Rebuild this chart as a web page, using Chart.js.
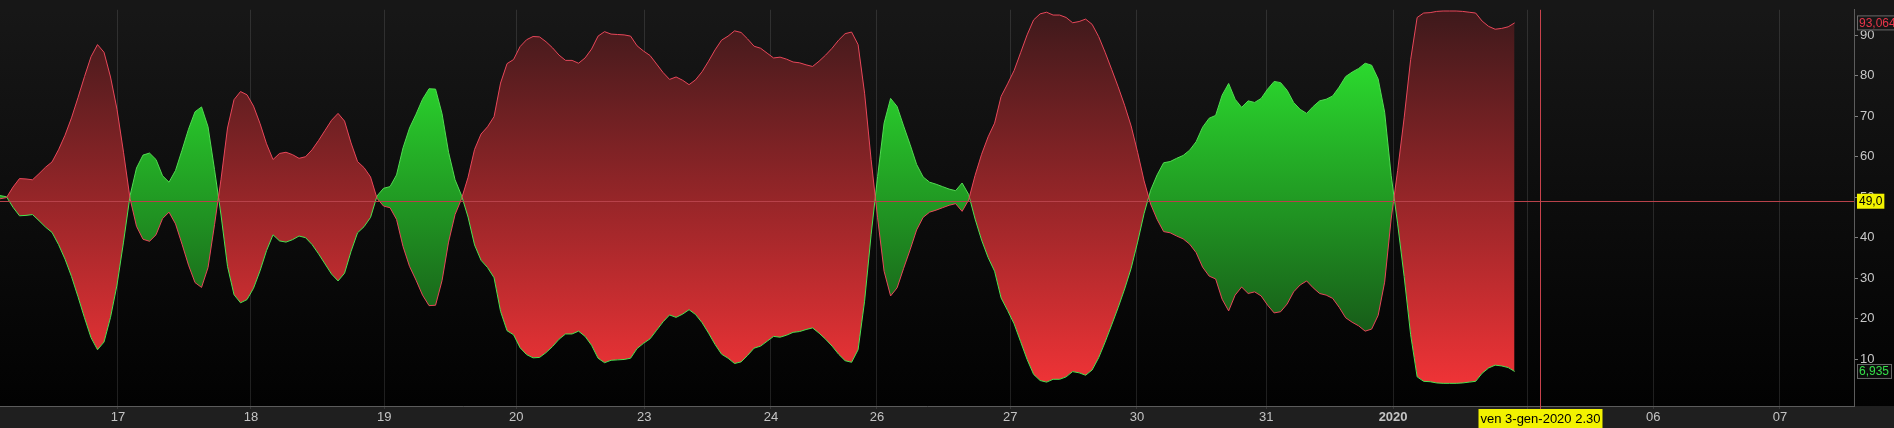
<!DOCTYPE html>
<html>
<head>
<meta charset="utf-8">
<script src="https://cdn.jsdelivr.net/npm/chart.js@4/dist/chart.umd.min.js"></script>
<style>
  html, body { margin: 0; padding: 0; background: #000; }
  canvas { display: block; }
</style>
</head>
<body>
<canvas id="chart" width="1894" height="428"></canvas>
<script>
// oscillator lines, one value per bar (red = upper line, green = its mirror)
const upperLine = [
  49.6, 49.9, 52.5, 54.6, 54.5, 54.3, 55.8, 57.4, 58.7, 61.7,
  65.3, 69.6, 74.6, 79.8, 84.7, 87.7, 85.8, 79.7, 71.7, 61.1,
  49.7, 42.8, 39.6, 39.1, 40.7, 44.7, 46.3, 43.4, 38.4, 33.2,
  28.9, 27.7, 32.6, 43.2, 54.4, 67.1, 74.1, 76.1, 75.3, 72.5,
  68.2, 63.2, 59.3, 60.8, 61.1, 60.5, 59.6, 60.0, 61.7, 64.0,
  66.5, 69.0, 70.7, 68.8, 63.4, 58.8, 57.3, 55.0, 49.7, 47.8,
  47.4, 44.5, 37.8, 32.9, 29.5, 25.8, 23.2, 23.3, 29.4, 38.9,
  45.7, 49.6, 54.9, 61.8, 65.6, 67.4, 69.9, 78.2, 83.0, 84.0,
  87.2, 88.9, 89.7, 89.6, 88.4, 86.9, 85.1, 83.8, 83.8, 83.1,
  84.4, 86.6, 89.8, 90.9, 90.3, 90.2, 90.1, 89.8, 87.4, 86.1,
  85.0, 82.9, 80.8, 79.1, 79.7, 78.9, 77.8, 79.0, 81.0, 83.6,
  86.4, 88.8, 89.8, 91.1, 90.7, 89.1, 87.3, 86.8, 85.6, 84.4,
  84.6, 84.1, 83.4, 83.2, 82.7, 82.3, 83.6, 85.1, 86.8, 88.8,
  90.4, 90.8, 87.7, 75.7, 59.3, 44.9, 31.7, 25.6, 27.6, 32.4,
  37.0, 41.9, 45.0, 46.3, 46.8, 47.4, 48.0, 48.4, 46.5, 49.3,
  55.4, 60.6, 64.9, 68.3, 74.9, 78.0, 81.3, 85.7, 90.1, 93.8,
  95.3, 95.7, 95.0, 95.0, 94.4, 93.1, 93.4, 94.0, 92.7, 89.7,
  85.8, 81.6, 77.3, 72.7, 67.6, 61.1, 54.0, 48.3, 44.5, 41.5,
  41.2, 40.4, 39.7, 38.4, 36.3, 32.7, 30.5, 29.8, 24.8, 21.9,
  25.8, 27.8, 26.2, 26.6, 25.6, 23.3, 21.4, 21.7, 23.6, 26.6,
  28.3, 29.3, 27.6, 26.2, 25.8, 25.0, 22.8, 20.2, 19.1, 18.2,
  16.9, 17.4, 20.8, 29.0, 44.6, 56.6, 69.6, 84.0, 94.4, 95.5,
  95.6, 95.9, 96.0, 96.0, 96.0, 95.9, 95.7, 95.5, 93.5, 92.2,
  91.5, 91.7, 92.1, 93.064,
];

const lowerLine = [
  50.4, 50.1, 47.5, 45.4, 45.5, 45.7, 44.2, 42.6, 41.3, 38.3,
  34.7, 30.4, 25.4, 20.2, 15.3, 12.3, 14.2, 20.3, 28.3, 38.9,
  50.3, 57.2, 60.4, 60.9, 59.3, 55.3, 53.7, 56.6, 61.6, 66.8,
  71.1, 72.3, 67.4, 56.8, 45.6, 32.9, 25.9, 23.9, 24.7, 27.5,
  31.8, 36.8, 40.7, 39.2, 38.9, 39.5, 40.4, 40.0, 38.3, 36.0,
  33.5, 31.0, 29.3, 31.2, 36.6, 41.2, 42.7, 45.0, 50.3, 52.2,
  52.6, 55.5, 62.2, 67.1, 70.5, 74.2, 76.8, 76.7, 70.6, 61.1,
  54.3, 50.4, 45.1, 38.2, 34.4, 32.6, 30.1, 21.8, 17.0, 16.0,
  12.8, 11.1, 10.3, 10.4, 11.6, 13.1, 14.9, 16.2, 16.2, 16.9,
  15.6, 13.4, 10.2, 9.1, 9.7, 9.8, 9.9, 10.2, 12.6, 13.9,
  15.0, 17.1, 19.2, 20.9, 20.3, 21.1, 22.2, 21.0, 19.0, 16.4,
  13.6, 11.2, 10.2, 8.9, 9.3, 10.9, 12.7, 13.2, 14.4, 15.6,
  15.4, 15.9, 16.6, 16.8, 17.3, 17.7, 16.4, 14.9, 13.2, 11.2,
  9.6, 9.2, 12.3, 24.3, 40.7, 55.1, 68.3, 74.4, 72.4, 67.6,
  63.0, 58.1, 55.0, 53.7, 53.2, 52.6, 52.0, 51.6, 53.5, 50.7,
  44.6, 39.4, 35.1, 31.7, 25.1, 22.0, 18.7, 14.3, 9.9, 6.2,
  4.7, 4.3, 5.0, 5.0, 5.6, 6.9, 6.6, 6.0, 7.3, 10.3,
  14.2, 18.4, 22.7, 27.3, 32.4, 38.9, 46.0, 51.7, 55.5, 58.5,
  58.8, 59.6, 60.3, 61.6, 63.7, 67.3, 69.5, 70.2, 75.2, 78.1,
  74.2, 72.2, 73.8, 73.4, 74.4, 76.7, 78.6, 78.3, 76.4, 73.4,
  71.7, 70.7, 72.4, 73.8, 74.2, 75.0, 77.2, 79.8, 80.9, 81.8,
  83.1, 82.6, 79.2, 71.0, 55.4, 43.4, 30.4, 16.0, 5.6, 4.5,
  4.4, 4.1, 4.0, 4.0, 4.0, 4.1, 4.3, 4.5, 6.5, 7.8,
  8.5, 8.3, 7.9, 6.935,
];

// session starts, in bars
const dayLabels = ['17', '18', '19', '20', '23', '24', '26', '27', '30', '31', '2020', '03', '06', '07'];
const dayStartBars = [18.15, 38.6, 59.1, 79.4, 99.1, 118.6, 134.9, 155.4, 174.9, 194.8, 214.3, 234.9, 254.3, 273.8];
const lastBar = 285.2;

const yTickValues = [10, 20, 30, 40, 50, 60, 70, 80, 90];
const yMin = -1.6;
const yMax = 96.3;

const refLevel = 49.0;
const refLabel = '49,0';
const upperLastLabel = '93,064';
const lowerLastLabel = '6,935';
const cursorBar = 236.9;
const cursorLabel = 'ven 3-gen-2020 2.30';

const FONT = '"Liberation Sans", Arial, sans-serif';
const RED_LINE = '#e8475a';
const GREEN_LINE = '#4fe052';

// ---plugins

const background = {
  id: 'background',
  beforeDraw (chart) {
    const { ctx, chartArea: a, width, height } = chart;
    ctx.save();
    ctx.fillStyle = '#1f1f1f';
    ctx.fillRect(0, 0, width, height);
    const bg = ctx.createLinearGradient(0, a.top, 0, a.bottom);
    bg.addColorStop(0, '#171717');
    bg.addColorStop(1, '#020202');
    ctx.fillStyle = bg;
    ctx.fillRect(0, 0, width, a.bottom);
    ctx.restore();
  },
};

const gradientFill = {
  id: 'gradientFill',
  afterLayout (chart) {
    const { ctx, chartArea: a } = chart;
    const red = ctx.createLinearGradient(0, a.top, 0, a.bottom);
    red.addColorStop(0, '#3d191b');
    red.addColorStop(0.5, '#9a2629');
    red.addColorStop(1, '#fa3538');
    const green = ctx.createLinearGradient(0, a.top, 0, a.bottom);
    green.addColorStop(0, '#2ff232');
    green.addColorStop(1, '#123a13');
    chart.data.datasets[0].fill = { target: 1, above: red, below: green };
  },
};

function tag (ctx, text, x, yMid, opts) {
  ctx.font = `12px ${FONT}`;
  const w = ctx.measureText(text).width + 4;
  ctx.fillStyle = opts.bg;
  ctx.fillRect(x, yMid - 7.5, w, 15);
  if (opts.border) {
    ctx.strokeStyle = opts.border;
    ctx.lineWidth = 1;
    ctx.strokeRect(x + 0.5, yMid - 7, w, 14);
  }
  ctx.fillStyle = opts.color;
  ctx.textBaseline = 'middle';
  ctx.textAlign = 'left';
  ctx.fillText(text, x + 2, yMid + 0.5);
}

const overlays = {
  id: 'overlays',
  afterDatasetsDraw (chart) {
    const { ctx, chartArea: a, scales } = chart;
    const yRef = Math.round(scales.y.getPixelForValue(refLevel)) + 0.5;
    ctx.save();
    ctx.strokeStyle = '#b8424a';
    ctx.lineWidth = 1;
    ctx.beginPath();
    ctx.moveTo(a.left, yRef);
    ctx.lineTo(a.right, yRef);
    ctx.stroke();
    ctx.restore();
  },
  afterDraw (chart) {
    const { ctx, chartArea: a, scales } = chart;
    ctx.save();
    const xc = Math.round(scales.x.getPixelForValue(cursorBar)) + 0.5;
    ctx.strokeStyle = '#c8424c';
    ctx.lineWidth = 1;
    ctx.beginPath();
    ctx.moveTo(xc, a.top);
    ctx.lineTo(xc, a.bottom + 3);
    ctx.stroke();

    // cursor date tag
    ctx.font = `13px ${FONT}`;
    const cw = ctx.measureText(cursorLabel).width + 4;
    ctx.fillStyle = '#f2f200';
    ctx.fillRect(xc - cw / 2, a.bottom + 3, cw, 19);
    ctx.fillStyle = '#000';
    ctx.textAlign = 'center';
    ctx.textBaseline = 'middle';
    ctx.fillText(cursorLabel, xc, a.bottom + 13);

    const xTag = a.right + 3;
    tag(ctx, refLabel, xTag, scales.y.getPixelForValue(refLevel), { bg: '#f2f200', color: '#000' });
    tag(ctx, upperLastLabel, xTag, scales.y.getPixelForValue(upperLine[upperLine.length - 1]), { bg: '#161616', border: '#6a6a6a', color: '#e8354a' });
    tag(ctx, lowerLastLabel, xTag, scales.y.getPixelForValue(lowerLine[lowerLine.length - 1]), { bg: '#0c0c0c', border: '#6a6a6a', color: '#35e04a' });
    ctx.restore();
  },
};

// ---chart

const chart = new Chart(
  document.getElementById('chart'),
  {
    type: 'line',
    data: {
      datasets: [
        {
          label: 'upper',
          data: upperLine.map((y, x) => ({ x, y })),
          borderColor: RED_LINE,
          borderWidth: 1,
          pointRadius: 0,
          tension: 0,
          fill: { target: 1 },
        },
        {
          label: 'lower',
          data: lowerLine.map((y, x) => ({ x, y })),
          borderColor: GREEN_LINE,
          borderWidth: 1,
          pointRadius: 0,
          tension: 0,
          fill: false,
        },
      ],
    },
    options: {
      animation: false,
      responsive: false,
      maintainAspectRatio: false,
      layout: { padding: 0 },
      plugins: {
        legend: { display: false },
        tooltip: { enabled: false },
        filler: { drawTime: 'beforeDatasetsDraw' },
      },
      scales: {
        x: {
          type: 'linear',
          min: 0,
          max: lastBar,
          z: 1,
          afterBuildTicks: (scale) => {
            scale.ticks = dayStartBars.map((value) => ({ value }));
          },
          afterFit: (scale) => {
            scale.height = 22;
          },
          ticks: {
            autoSkip: false,
            maxRotation: 0,
            padding: 1,
            color: '#c4c4c4',
            font: (ctx) => ({
              family: FONT,
              size: 13,
              weight: dayLabels[ctx.index] === '2020' ? 'bold' : 'normal',
            }),
            callback: (value, index) => dayLabels[index],
          },
          grid: {
            color: 'rgba(200, 200, 200, 0.15)',
            tickLength: 3,
          },
          border: { color: '#5c5c5c' },
        },
        y: {
          position: 'right',
          min: yMin,
          max: yMax,
          afterBuildTicks: (scale) => {
            scale.ticks = yTickValues.map((value) => ({ value }));
          },
          afterFit: (scale) => {
            scale.width = 40;
          },
          ticks: {
            padding: 2,
            color: '#c8c8c8',
            font: { family: FONT, size: 13 },
          },
          grid: {
            drawOnChartArea: false,
            tickLength: 4,
            color: '#808080',
          },
          border: { color: '#5c5c5c' },
        },
      },
    },
    plugins: [background, gradientFill, overlays],
  },
);
</script>
</body>
</html>
